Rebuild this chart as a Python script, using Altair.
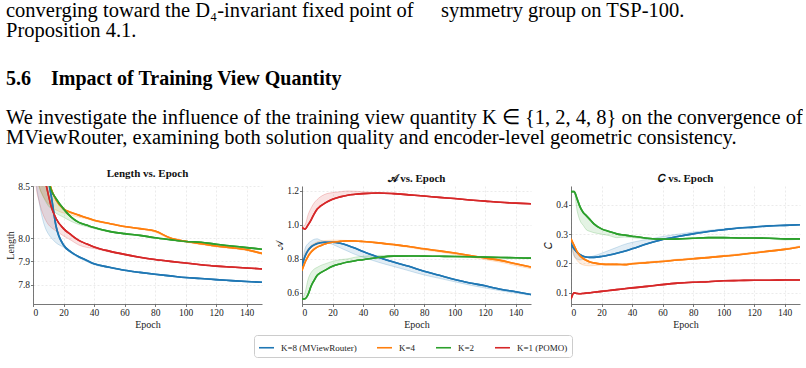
import altair as alt
import pandas as pd

# ---------------- data ----------------
EPOCHS = [0, 2, 4, 6, 8, 10, 12, 15, 20, 25, 30, 35, 40, 50, 60, 70, 80, 90, 100, 110, 120, 130, 140, 150]
SERIES = ["K=8 (MViewRouter)", "K=4", "K=2", "K=1 (POMO)"]
COLORS = ["#1f77b4", "#ff7f0e", "#2ca02c", "#d62728"]
X_TICKS = [0, 20, 40, 60, 80, 100, 120, 140]

# Length vs. Epoch (smoothed curve and raw edge of the shaded band)
LEN_K8 = [9.6, 9.3, 9.05, 8.85, 8.7, 8.56, 8.4, 8.12, 7.97, 7.94, 7.92, 7.905, 7.89, 7.875, 7.862, 7.853, 7.845, 7.838, 7.831, 7.827, 7.822, 7.818, 7.814, 7.811]
LEN_K8_RAW = [9.0, 8.55, 8.35, 8.2, 8.1, 8.04, 8.0, 7.98, 7.96, 7.935, 7.915, 7.9, 7.886, 7.872, 7.86, 7.851, 7.843, 7.836, 7.829, 7.825, 7.82, 7.816, 7.813, 7.81]
LEN_K4 = [9.8, 9.5, 9.2, 8.95, 8.75, 8.58, 8.47, 8.37, 8.28, 8.245, 8.22, 8.195, 8.17, 8.14, 8.11, 8.09, 8.067, 8.0, 7.986, 7.976, 7.966, 7.959, 7.95, 7.934]
LEN_K4_RAW = [9.0, 8.7, 8.5, 8.42, 8.37, 8.33, 8.3, 8.27, 8.24, 8.22, 8.2, 8.185, 8.162, 8.134, 8.105, 8.085, 8.055, 7.995, 7.982, 7.972, 7.962, 7.955, 7.946, 7.93]
LEN_K2 = [9.8, 9.5, 9.2, 8.95, 8.72, 8.56, 8.46, 8.38, 8.28, 8.2, 8.15, 8.125, 8.1, 8.064, 8.042, 8.025, 8.003, 7.993, 7.985, 7.982, 7.973, 7.966, 7.959, 7.952]
LEN_K2_RAW = [9.0, 8.7, 8.5, 8.42, 8.36, 8.31, 8.28, 8.24, 8.2, 8.16, 8.13, 8.11, 8.09, 8.058, 8.038, 8.02, 8.0, 7.99, 7.983, 7.978, 7.97, 7.963, 7.956, 7.95]
LEN_K1 = [9.5, 9.1, 8.85, 8.68, 8.55, 8.42, 8.3, 8.19, 8.09, 8.03, 7.99, 7.975, 7.962, 7.944, 7.93, 7.918, 7.908, 7.9, 7.893, 7.886, 7.88, 7.876, 7.872, 7.868]
LEN_K1_RAW = [8.9, 8.5, 8.35, 8.25, 8.18, 8.13, 8.1, 8.07, 8.02, 7.99, 7.97, 7.96, 7.955, 7.94, 7.927, 7.915, 7.905, 7.898, 7.891, 7.884, 7.878, 7.874, 7.87, 7.866]

# A vs. Epoch
A_K8 = [0.76, 0.815, 0.85, 0.87, 0.882, 0.89, 0.895, 0.898, 0.898, 0.892, 0.879, 0.862, 0.843, 0.81, 0.781, 0.756, 0.727, 0.703, 0.678, 0.658, 0.641, 0.621, 0.606, 0.59]
A_K8_RAW = [0.76, 0.86, 0.89, 0.905, 0.915, 0.918, 0.91, 0.9, 0.885, 0.865, 0.845, 0.825, 0.81, 0.78, 0.755, 0.73, 0.705, 0.685, 0.665, 0.645, 0.628, 0.612, 0.598, 0.585]
A_K4 = [0.732, 0.78, 0.815, 0.84, 0.857, 0.869, 0.877, 0.888, 0.898, 0.903, 0.906, 0.905, 0.902, 0.894, 0.884, 0.873, 0.859, 0.847, 0.834, 0.82, 0.805, 0.791, 0.771, 0.752]
A_K4_RAW = [0.732, 0.83, 0.86, 0.88, 0.89, 0.9, 0.905, 0.908, 0.91, 0.91, 0.908, 0.904, 0.9, 0.89, 0.88, 0.867, 0.852, 0.84, 0.826, 0.811, 0.795, 0.78, 0.76, 0.742]
A_K2 = [0.563, 0.565, 0.59, 0.64, 0.674, 0.703, 0.717, 0.732, 0.756, 0.77, 0.781, 0.789, 0.795, 0.808, 0.816, 0.817, 0.816, 0.815, 0.814, 0.812, 0.81, 0.808, 0.806, 0.804]
A_K2_RAW = [0.563, 0.6, 0.68, 0.72, 0.74, 0.75, 0.76, 0.77, 0.785, 0.795, 0.8, 0.81, 0.815, 0.82, 0.82, 0.819, 0.814, 0.818, 0.812, 0.815, 0.808, 0.81, 0.804, 0.802]
A_K1 = [0.985, 0.975, 1.0, 1.03, 1.065, 1.093, 1.11, 1.128, 1.151, 1.165, 1.175, 1.18, 1.184, 1.188, 1.184, 1.177, 1.17, 1.162, 1.155, 1.147, 1.14, 1.133, 1.128, 1.124]
A_K1_RAW = [0.985, 1.0, 1.06, 1.1, 1.13, 1.15, 1.165, 1.18, 1.19, 1.195, 1.2, 1.198, 1.195, 1.19, 1.183, 1.175, 1.168, 1.16, 1.153, 1.145, 1.138, 1.131, 1.126, 1.122]

# C vs. Epoch
C_K8 = [0.268, 0.25, 0.238, 0.23, 0.225, 0.222, 0.221, 0.221, 0.224, 0.229, 0.235, 0.242, 0.25, 0.267, 0.282, 0.292, 0.301, 0.309, 0.315, 0.321, 0.324, 0.328, 0.33, 0.332]
C_K8_RAW = [0.268, 0.225, 0.215, 0.212, 0.215, 0.22, 0.222, 0.226, 0.235, 0.245, 0.255, 0.265, 0.272, 0.282, 0.292, 0.3, 0.307, 0.313, 0.318, 0.323, 0.326, 0.33, 0.331, 0.333]
C_K4 = [0.284, 0.262, 0.24, 0.226, 0.217, 0.211, 0.206, 0.202, 0.198, 0.197, 0.197, 0.196, 0.199, 0.203, 0.207, 0.212, 0.216, 0.22, 0.225, 0.23, 0.236, 0.242, 0.248, 0.256]
C_K4_RAW = [0.284, 0.23, 0.21, 0.2, 0.195, 0.193, 0.192, 0.193, 0.195, 0.196, 0.195, 0.198, 0.202, 0.206, 0.21, 0.215, 0.219, 0.223, 0.228, 0.233, 0.239, 0.245, 0.251, 0.26]
C_K2 = [0.445, 0.445, 0.42, 0.392, 0.374, 0.363, 0.352, 0.335, 0.318, 0.309, 0.301, 0.297, 0.293, 0.286, 0.283, 0.284, 0.286, 0.288, 0.288, 0.287, 0.287, 0.286, 0.284, 0.284]
C_K2_RAW = [0.445, 0.445, 0.38, 0.345, 0.33, 0.315, 0.31, 0.305, 0.3, 0.295, 0.288, 0.29, 0.288, 0.283, 0.282, 0.283, 0.285, 0.287, 0.286, 0.285, 0.286, 0.284, 0.28, 0.283]
C_K1 = [0.079, 0.1, 0.098, 0.097, 0.098, 0.099, 0.1, 0.102, 0.105, 0.108, 0.111, 0.114, 0.117, 0.122, 0.128, 0.133, 0.136, 0.138, 0.141, 0.142, 0.143, 0.143, 0.144, 0.144]
C_K1_RAW = [0.079, 0.1, 0.1, 0.099, 0.1, 0.101, 0.102, 0.104, 0.107, 0.11, 0.113, 0.116, 0.119, 0.124, 0.13, 0.135, 0.138, 0.14, 0.142, 0.143, 0.144, 0.144, 0.145, 0.145]

LENGTH_TICKS = [7.8, 7.9, 8.0, 8.5]
A_TICKS = [0.6, 0.8, 1.0, 1.2]
C_TICKS = [0.1, 0.2, 0.3, 0.4]

TEXT_L1 = "converging toward the D\u2084-invariant fixed point of"
TEXT_R1 = "symmetry group on TSP-100."
TEXT_L2 = "Proposition 4.1."
HEAD_NUM = "5.6"
HEAD_TXT = "Impact of Training View Quantity"
PARA_1 = "We investigate the influence of the training view quantity K \u2208 {1, 2, 4, 8} on the convergence of"
PARA_2 = "MViewRouter, examining both solution quality and encoder-level geometric consistency."

SERIF = "Liberation Serif"
PW, PH = 229, 118
OX = 32   # page x of the first plot area

LEGEND = alt.Legend(orient="none", legendX=253 - OX, legendY=335, direction="horizontal",
                    columns=4, title=None, symbolType="stroke", symbolSize=225,
                    symbolStrokeWidth=1.6, symbolOpacity=1, labelFont=SERIF, labelFontSize=9,
                    labelColor="#222", columnPadding=16, padding=4, labelOffset=6,
                    strokeColor="#cccccc", cornerRadius=3, fillColor="white")


def frame(vals):
    rows = []
    for name, (smooth, raw) in zip(SERIES, vals):
        for e, v, r in zip(EPOCHS, smooth, raw):
            rows.append({"epoch": e, "series": name, "value": v, "raw": r})
    return pd.DataFrame(rows)


def panel(df, title, ytitle, yscale, yticks):
    xenc = alt.X("epoch:Q", scale=alt.Scale(domain=[0, 150], nice=False, zero=False),
                 axis=alt.Axis(values=X_TICKS, title="Epoch", format="d"))
    yaxis = alt.Axis(values=yticks, title=ytitle, format=".1f")
    cenc = alt.Color("series:N", scale=alt.Scale(domain=SERIES, range=COLORS),
                     legend=LEGEND, sort=SERIES)
    band = alt.Chart(df).mark_area(opacity=0.13, clip=True, interpolate="monotone").encode(
        x=xenc,
        y=alt.Y("value:Q", scale=yscale, axis=yaxis),
        y2="raw:Q",
        color=cenc,
    )
    raw = alt.Chart(df).mark_line(strokeWidth=0.6, opacity=0.35, clip=True, interpolate="monotone").encode(
        x=xenc,
        y=alt.Y("raw:Q", scale=yscale, axis=yaxis),
        color=cenc,
    )
    line = alt.Chart(df).mark_line(strokeWidth=1.6, clip=True, interpolate="monotone").encode(
        x=xenc,
        y=alt.Y("value:Q", scale=yscale, axis=yaxis),
        color=cenc,
    )
    return alt.layer(line, band, raw, line).properties(width=PW, height=PH, title=title)


len_df = frame([(LEN_K8, LEN_K8_RAW), (LEN_K4, LEN_K4_RAW), (LEN_K2, LEN_K2_RAW), (LEN_K1, LEN_K1_RAW)])
a_df = frame([(A_K8, A_K8_RAW), (A_K4, A_K4_RAW), (A_K2, A_K2_RAW), (A_K1, A_K1_RAW)])
c_df = frame([(C_K8, C_K8_RAW), (C_K4, C_K4_RAW), (C_K2, C_K2_RAW), (C_K1, C_K1_RAW)])

p1 = panel(len_df, "Length vs. Epoch", "Length",
           alt.Scale(domain=[7.718, 8.0, 8.5], range=[PH, 52, 0], zero=False, nice=False), LENGTH_TICKS)
p2 = panel(a_df, "\U0001D49C vs. Epoch", "\U0001D49C",
           alt.Scale(domain=[0.534, 1.229], zero=False, nice=False), A_TICKS)
p3 = panel(c_df, "\U0001D436 vs. Epoch", "\U0001D436",
           alt.Scale(domain=[0.062, 0.464], zero=False, nice=False), C_TICKS)


def txt(s, x, y, size=20.5, weight="normal"):
    return alt.Chart(pd.DataFrame({"t": [s]})).mark_text(
        align="left", baseline="alphabetic", font=SERIF, fontSize=size,
        fontWeight=weight, color="#000", x=x - OX, y=y).encode(text="t:N")


header = alt.layer(
    txt(TEXT_L1, 5, 17),
    txt(TEXT_R1, 440, 17),
    txt(TEXT_L2, 5, 37),
    txt(HEAD_NUM, 5, 85, 20, "bold"),
    txt(HEAD_TXT, 50, 85, 20, "bold"),
    txt(PARA_1, 5, 124),
    txt(PARA_2, 5, 144),
).properties(width=767, height=170)

row = alt.hconcat(p1, p2, p3, spacing=40, bounds="flush").resolve_scale(color="shared")

chart = alt.vconcat(header, row, spacing=16, bounds="flush").resolve_scale(
    color="shared"
).properties(
    padding={"left": 5, "top": 0, "right": 0, "bottom": 0}
).configure_view(stroke=None).configure_axis(
    domainColor="#555", domainWidth=0.8, tickColor="#555", tickSize=2.5, tickWidth=0.8,
    labelFont=SERIF, labelFontSize=9.5, labelColor="#222", labelPadding=1,
    titleFont=SERIF, titleFontSize=10, titleFontWeight="normal", titleColor="#222",
    titlePadding=2, gridColor="#dddddd", gridDash=[2, 2], gridWidth=0.6,
).configure_title(
    font=SERIF, fontSize=11, fontWeight="bold", color="#111", offset=2
)

chart.save("out.html", embed_options={"renderer": "svg", "actions": False})
